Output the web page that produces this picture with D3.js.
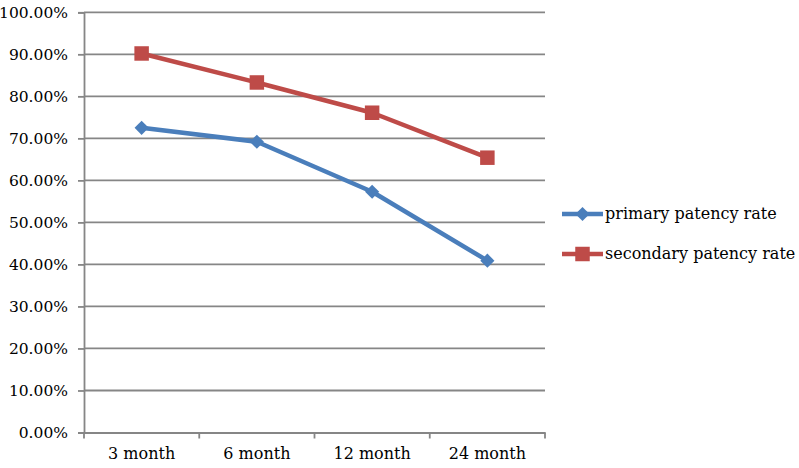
<!DOCTYPE html>
<html><head><meta charset="utf-8">
<script src="https://cdn.jsdelivr.net/npm/d3@7"></script>
<style>body{margin:0;background:#fff}svg{display:block}</style>
</head><body>
<script>
const categories = ["3 month", "6 month", "12 month", "24 month"];
const primary = [72.5, 69.2, 57.3, 40.9];
const secondary = [90.2, 83.3, 76.1, 65.4];
const yTicks = [0,10,20,30,40,50,60,70,80,90,100];
const seriesNames = ["primary patency rate", "secondary patency rate"];
const colors = ["#4A7EBB", "#BE4B48"];

const W = 799, H = 468;
const plotL = 84, plotR = 545, plotT = 12.3, plotB = 432.5;
const FONT = "'DejaVu Serif', serif";
const svg = d3.select("body").append("svg").attr("width", W).attr("height", H);
const x = d3.scaleBand().domain(categories).range([plotL, plotR]);
const y = d3.scaleLinear().domain([0, 100]).range([plotB, plotT]);

svg.append("g").selectAll("line").data(yTicks.slice(1)).join("line")
  .attr("x1", plotL).attr("x2", plotR).attr("y1", d => y(d)).attr("y2", d => y(d))
  .attr("stroke", "#868686").attr("stroke-width", 1.8);

const yAxis = svg.append("g").attr("transform", `translate(${plotL},0)`)
  .call(d3.axisLeft(y).tickValues(yTicks).tickSize(6).tickPadding(10).tickFormat(d => d.toFixed(2) + "%"));
yAxis.attr("font-family", FONT).attr("font-size", 15.5);
yAxis.select(".domain").attr("stroke", "#868686").attr("stroke-width", 1.8);
yAxis.selectAll(".tick line").attr("stroke", "#868686").attr("stroke-width", 1.8);
yAxis.selectAll("text").attr("fill", "#000");

const xAxis = svg.append("g").attr("transform", `translate(0,${plotB})`)
  .call(d3.axisBottom(x).tickSize(0).tickPadding(15));
xAxis.attr("font-family", FONT).attr("font-size", 16);
xAxis.select(".domain").attr("stroke", "#868686").attr("stroke-width", 1.8);
xAxis.selectAll("text").attr("fill", "#000");
const bounds = categories.map(c => x(c)).concat([plotR]);
svg.append("g").selectAll("line").data(bounds).join("line")
  .attr("x1", d => d).attr("x2", d => d).attr("y1", plotB).attr("y2", plotB + 6)
  .attr("stroke", "#868686").attr("stroke-width", 1.8);

const cx = c => x(c) + x.bandwidth() / 2;
const line = d3.line().x((d, i) => cx(categories[i])).y(d => y(d));
const diamond = d3.symbol().type(d3.symbolSquare).size(100);
const square = d3.symbol().type(d3.symbolSquare).size(210);

[primary, secondary].forEach((vals, k) => {
  svg.append("path").datum(vals).attr("d", line).attr("fill", "none")
    .attr("stroke", colors[k]).attr("stroke-width", 4.5).attr("stroke-linejoin", "round");
  svg.append("g").selectAll("path").data(vals).join("path")
    .attr("transform", (d, i) => `translate(${cx(categories[i])},${y(d)})` + (k === 0 ? " rotate(45)" : ""))
    .attr("d", k === 0 ? diamond : square).attr("fill", colors[k]);
});

const leg = svg.append("g").attr("font-family", FONT).attr("font-size", 16);
[214, 254].forEach((ly, k) => {
  leg.append("line").attr("x1", 562).attr("x2", 603).attr("y1", ly).attr("y2", ly)
    .attr("stroke", colors[k]).attr("stroke-width", 4.5);
  leg.append("path").attr("transform", `translate(582.5,${ly})` + (k === 0 ? " rotate(45)" : ""))
    .attr("d", k === 0 ? diamond : square).attr("fill", colors[k]);
  leg.append("text").attr("x", 605).attr("y", ly).attr("dy", "0.32em")
    .attr("fill", "#000").text(seriesNames[k]);
});
</script>
</body></html>
